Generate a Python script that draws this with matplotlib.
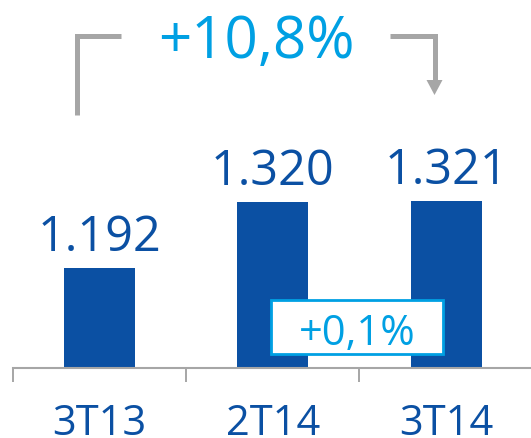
import matplotlib.pyplot as plt
from matplotlib.patches import Rectangle, Polygon

plt.rcParams['font.family'] = ['Open Sans', 'DejaVu Sans']

categories = ['3T13', '2T14', '3T14']
values = [1192, 1320, 1321]
value_labels = ['1.192', '1.320', '1.321']
total_change = '+10,8%'
quarter_change = '+0,1%'

dark_blue = '#0B50A3'
light_blue = '#00A0E3'
gray = '#A6A6A6'

W, H = 531, 438
fig = plt.figure(figsize=(W / 100, H / 100), dpi=100)

# main axes: bottom edge sits on the baseline, y axis starts at 1000
ax = fig.add_axes([12.9 / W, 70 / H, 1 - 12.9 / W, 368 / H])
ax.set_xlim(-0.5, 2.49)
ax.set_ylim(1000, 1000 + 368 / 0.519)

x = list(range(len(categories)))
bars = ax.bar(x, values, width=0.41, color=dark_blue, zorder=2)

for xi, v, lab in zip(x, values, value_labels):
    ax.annotate(lab, (xi, v), xytext=(0, 12.5), textcoords='offset points',
                ha='center', va='baseline', fontsize=35, color=dark_blue)

for xi, cat in zip(x, categories):
    ax.text(xi, -67 / 368, cat, transform=ax.get_xaxis_transform(),
            ha='center', va='baseline', fontsize=30, color=dark_blue)

for s in ['top', 'left', 'right']:
    ax.spines[s].set_visible(False)
ax.spines['bottom'].set_color(gray)
ax.spines['bottom'].set_linewidth(1.5)
ax.set_yticks([])
ax.set_xticks([])
ax.set_xticks([-0.5, 0.5, 1.5], minor=True)
ax.tick_params(axis='x', which='minor', length=10, width=1.4, color=gray,
               direction='out', labelbottom=False)
ax.patch.set_alpha(0)

# overlay in pixel coordinates for the annotations
ov = fig.add_axes([0, 0, 1, 1])
ov.set_xlim(0, W)
ov.set_ylim(H, 0)
ov.axis('off')
ov.patch.set_alpha(0)

ov.plot([77, 77, 121], [114.6, 35.6, 35.6], color=gray, lw=3.6,
        solid_joinstyle='miter', solid_capstyle='butt')
ov.plot([390, 434.5, 434.5], [35.6, 35.6, 81], color=gray, lw=3.6,
        solid_joinstyle='miter', solid_capstyle='butt')
ov.add_patch(Polygon([[426.5, 80], [442.5, 80], [434.5, 95]], closed=True,
                     facecolor=gray, edgecolor='none'))

ov.text(256, 58, total_change, ha='center', va='baseline', fontsize=42,
        color=light_blue)

ov.add_patch(Rectangle((271, 300), 172, 54, facecolor='white',
                       edgecolor=light_blue, lw=2, zorder=3))
ov.text(357, 345, quarter_change, ha='center', va='baseline', fontsize=30,
        color=light_blue, zorder=4)

fig.savefig('out.png', dpi=100)
